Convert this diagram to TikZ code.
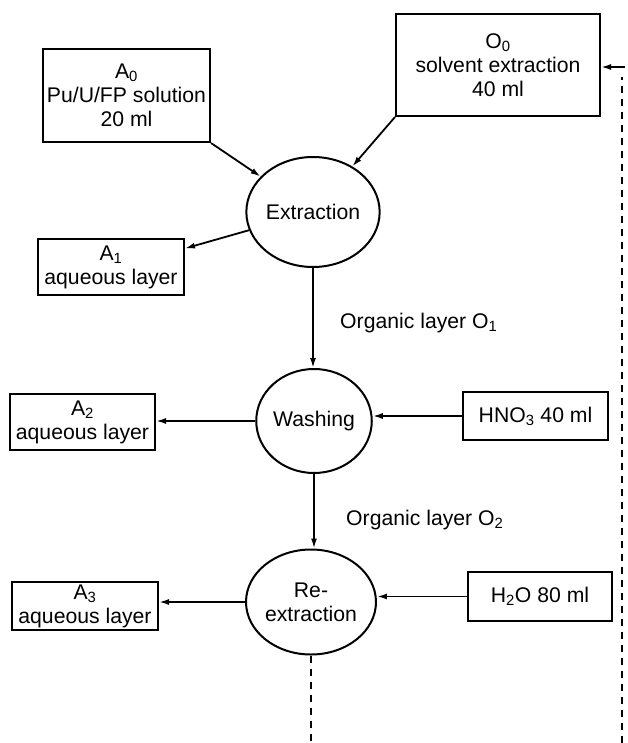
\documentclass[tikz,border=0pt]{standalone}
\usepackage{fontspec}
\setmainfont{Liberation Sans}
\usetikzlibrary{arrows.meta,shapes.geometric,calc}

\tikzset{
  box/.style={draw, line width=2pt, inner sep=0pt, align=center},
  stage/.style={draw, ellipse, line width=2pt, inner sep=0pt, align=center},
  flow/.style={line width=1.8pt, -{Latex[length=10pt,width=6pt]}},
  recycle/.style={line width=1.8pt, dash pattern=on 7pt off 6pt},
  lbl/.style={anchor=west, inner sep=0pt}
}

\begin{document}
\begin{tikzpicture}[x=1pt, y=-1pt, font=\fontsize{21.2}{24}\selectfont]
  \useasboundingbox (0,0) rectangle (627,743);

  % feed and solvent
  \node[box, minimum width=167pt, minimum height=93pt] (a0) at (126.5,95.5)
    {A\textsubscript{0}\\Pu/U/FP solution\\20 ml};
  \node[box, minimum width=204pt, minimum height=102pt] (o0) at (498,65)
    {O\textsubscript{0}\\solvent extraction\\40 ml};

  % process stages
  \node[stage, minimum width=106pt, minimum height=110pt] (ext) at (313,212) {Extraction};
  \node[stage, minimum width=102pt, minimum height=104pt] (wash) at (314,421) {Washing};
  \node[stage, minimum width=102pt, minimum height=105pt] (rex) at (311,602) {Re-\\extraction};

  % aqueous outputs
  \node[box, minimum width=146pt, minimum height=56pt] (a1) at (111,267)
    {A\textsubscript{1}\\aqueous layer};
  \node[box, minimum width=145pt, minimum height=56pt] (a2) at (82.5,422)
    {A\textsubscript{2}\\aqueous layer};
  \node[box, minimum width=146pt, minimum height=48pt] (a3) at (85,606)
    {A\textsubscript{3}\\aqueous layer};

  % reagents
  \node[box, minimum width=145pt, minimum height=48pt] (hno) at (535.5,416)
    {HNO\textsubscript{3} 40 ml};
  \node[box, minimum width=144pt, minimum height=49pt] (water) at (540,596.5)
    {H\textsubscript{2}O 80 ml};

  % stream labels
  \node[lbl] (o1) at (340,323) {Organic layer O\textsubscript{1}};
  \node[lbl] (o2) at (346,520) {Organic layer O\textsubscript{2}};

  % recycle line ends
  \coordinate (rb) at (622,743);
  \coordinate (rt) at (622,77);
  \coordinate (ra) at (625,67);
  \coordinate (bot) at (311,743);
  \coordinate (a1in) at ($(a1.north east)!0.18!(a1.south east)$);

  % connectors
  \draw[flow] (a0.south east) -- (ext);
  \draw[flow] (o0.south west) -- (ext);
  \draw[flow] (ext) -- (a1in);
  \draw[flow] (ext.south) -- (ext.south |- wash.north);
  \draw[flow] (wash.west) -- (wash.west -| a2.east);
  \draw[flow] (hno.west) -- (hno.west -| wash.east);
  \draw[flow] (wash.south) -- (wash.south |- rex.north);
  \draw[flow] (rex.west) -- (rex.west -| a3.east);
  \draw[flow] (water.west) -- (water.west -| rex.east);
  \draw[recycle] (rex.south) -- (bot);
  \draw[recycle] (rb) -- (rt);
  \draw[flow] (ra) -- (ra -| o0.east);
\end{tikzpicture}
\end{document}
